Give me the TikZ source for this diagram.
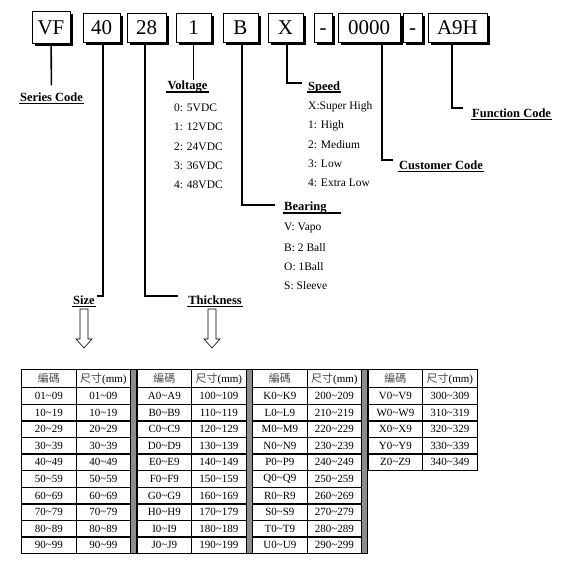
\documentclass[tikz,border=0pt]{standalone}
\usepackage{fontspec}
\setmainfont{Liberation Serif}
\newfontfamily\cjk{Noto Sans CJK TC}
\usetikzlibrary{shadows}
\newcommand\tld{\textasciitilde}
\begin{document}
\begin{tikzpicture}[x=1pt, y=-1pt,
  box/.style={draw, line width=0.6pt, fill=white, inner sep=0pt, minimum height=29pt, text height=14.5pt, text depth=0pt,
    font=\fontsize{21}{21}\selectfont,
    drop shadow={shadow xshift=2.5pt, shadow yshift=-2.5pt, fill=black, opacity=1}},
  ttl/.style={font=\fontsize{12.5}{13}\selectfont\bfseries, inner sep=1pt},
  item/.style={font=\fontsize{11.5}{12}\selectfont, inner sep=1pt, anchor=west},
  ln/.style={line width=1.6pt},
  ul/.style={line width=1.3pt},
  hollow/.style={draw, line width=0.6pt, fill=white},
  cell/.style={draw, line width=1.3pt, fill=white, anchor=north west, inner sep=0pt, minimum width=54.5pt,
    minimum height=16.6pt, font=\fontsize{11}{11}\selectfont},
  hdr/.style={cell, minimum height=18pt},
  bar/.style={draw, line width=1pt, fill=black!45}]
  \useasboundingbox (0,0) rectangle (561,566);

  \node[box, minimum width=38pt, minimum height=32pt] (bVF) at (51,27) {VF};
  \node[box, minimum width=37pt] (b40) at (101.5,27.5) {40};
  \node[box, minimum width=39pt] (b28) at (146.5,27.5) {28};
  \node[box, minimum width=35pt] (b1) at (193.5,27.5) {1};
  \node[box, minimum width=35pt] (bB) at (240.5,27.5) {B};
  \node[box, minimum width=35pt] (bX) at (285.5,27.5) {X};
  \node[box, minimum width=18pt] (d1) at (323,27.5) {-};
  \node[box, minimum width=62pt] (b0000) at (369,27.5) {0000};
  \node[box, minimum width=19pt] (d2) at (412.5,27.5) {-};
  \node[box, minimum width=59pt] (bA9H) at (457.5,27.5) {A9H};

  \node[ttl] (ser) at (51.5,97) {Series Code};
  \node[ttl] (vol) at (187.5,87) {Voltage};
  \node[ttl, anchor=west] (spd) at (307,87) {Speed};
  \node[ttl, anchor=west] (fun) at (471,113) {Function Code};
  \node[ttl, anchor=west] (cus) at (398,165) {Customer Code};
  \node[ttl, anchor=west] (bea) at (283,208) {Bearing};
  \node[ttl] (siz) at (84,300) {Size};
  \node[ttl] (thk) at (215,300) {Thickness};
  \foreach \t in {ser,vol,spd,fun,cus,siz,thk}
    \draw[ul] ([yshift=-2pt]\t.base west) -- ([yshift=-2pt]\t.base east);
  \draw[ul] ([yshift=-2pt]bea.base west) -- ([xshift=13pt, yshift=-2pt]bea.base east);

  \foreach \t [count=\i from 0] in {0: 5VDC,1: 12VDC,2: 24VDC,3: 36VDC,4: 48VDC}
    \node[item] (v\i) at (173,108+19.25*\i) {\t};
  \foreach \t [count=\i from 0] in {X:Super High,1: High,2: Medium,3: Low,4: Extra Low}
    \node[item] (s\i) at (307,107+19*\i) {\t};
  \foreach \t [count=\i from 0] in {V: Vapo,B: 2 Ball,O: 1Ball,S: Sleeve}
    \node[item] (r\i) at (283,228+19.3*\i) {\t};

  \draw[ln, shorten >=6pt] (bVF) -- (ser);
  \draw[ln] (b1.south) -- (b1.south |- vol.north);
  \draw[ln, shorten >=1pt] ([xshift=1.5pt]b40.south) |- ([yshift=4pt]siz.east);
  \draw[ln, shorten >=9pt] ([xshift=-1.5pt]b28.south) |- ([yshift=4pt]thk.west);
  \draw[ln, shorten >=8pt] ([xshift=1.5pt]bB.south) |- ([yshift=3pt]bea.west);
  \draw[ln, shorten >=5pt] ([xshift=1.5pt]bX.south) |- ([yshift=4pt]spd.west);
  \draw[ln, shorten >=5pt] ([xshift=13pt]b0000.south) |- ([yshift=5pt]cus.west);
  \draw[ln, shorten >=8pt] ([xshift=-5.5pt]bA9H.south) |- ([yshift=5pt]fun.west);

  \foreach \x in {84,212}
    \draw[hollow] (\x-4,309) -- ++(8,0) -- ++(0,30) -- ++(4,0) -- (\x,348) -- (\x-8,339) -- ++(4,0) -- cycle;

  \foreach \x in {130,245.5,361}
    \draw[bar] (\x,369) rectangle ++(6.5,184);
  \foreach \g in {0,...,3}{
    \pgfmathsetmacro\gx{21+115.5*\g}
    \node[hdr] (h\g a) at (\gx,369) {\color{black!70}\cjk 編碼};
    \node[hdr] (h\g b) at (\gx+54.5,369) {{\color{black!70}\cjk 尺寸}(mm)};
  }
  \foreach \t [count=\r] in {01\tld09,10\tld19,20\tld29,30\tld39,40\tld49,50\tld59,60\tld69,70\tld79,80\tld89,90\tld99}{
    \node[cell] (c0-\r a) at (21,387+16.6*\r-16.6) {\t};
    \node[cell] (c0-\r b) at (75.5,387+16.6*\r-16.6) {\t};
  }
  \foreach \g/\ls in {1/{A,B,C,D,E,F,G,H,I,J},2/{K,L,M,N,P,Q,R,S,T,U},3/{V,W,X,Y,Z}}{
    \pgfmathsetmacro\gx{21+115.5*\g}
    \foreach \l [count=\r] in \ls {
      \pgfmathtruncatemacro\d{\r-1}
      \node[cell] (c\g-\r a) at (\gx,387+16.6*\r-16.6) {\l0\tld\l9};
      \node[cell] (c\g-\r b) at (\gx+54.5,387+16.6*\r-16.6) {\g\d0\tld\g\d9};
    }
  }
\end{tikzpicture}
\end{document}
